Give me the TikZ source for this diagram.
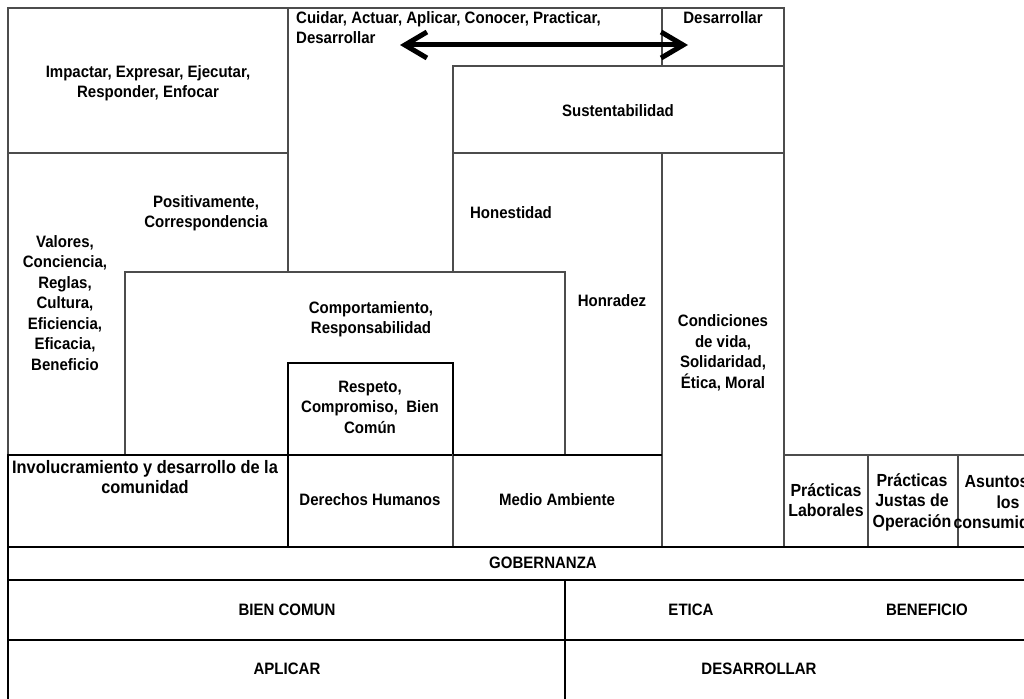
\documentclass[tikz,border=0pt]{standalone}
\usepackage{fontspec}
\setmainfont{Liberation Sans}[FakeStretch=0.91]
\usetikzlibrary{arrows.meta}
\tikzset{x=1pt, y=-1pt,
every node/.style={ % text of the boxes
font=\fontsize{16.5}{20.5}\selectfont\bfseries,
align=center,
inner sep=0pt},
bigtext/.style={font=\fontsize{17.5}{20.5}\selectfont\bfseries},
box/.style={ % thin grey frames
draw=black!70,
fill=white,
line width=1.1pt},
heavybox/.style={ % darker frames
draw=black,
fill=white,
line width=1.7pt},
bigarrow/.style={
{Straight Barb[length=22pt,width=26pt]}-{Straight Barb[length=22pt,width=26pt]},
line width=5pt}}

\begin{document}
\begin{tikzpicture}
	\useasboundingbox (0,0) rectangle (1024,698);
	\clip (0,0) rectangle (1024,698);
	% upper blocks
	\draw[box] (8,8) rectangle (288,153);
	\draw[box] (288,8) rectangle (662,300);
	\draw[box] (662,8) rectangle (784,66);
	\draw[box] (453,66) rectangle (784,153);
	\draw[box] (8,153) rectangle (288,455);
	\draw[box] (453,153) rectangle (662,455);
	\draw[box] (662,153) rectangle (784,547);
	\draw[box] (125,272) rectangle (565,455);
	\draw[heavybox] (288,363) rectangle (453,455);
	% lower rows
	\draw[heavybox] (8,455) rectangle (288,547);
	\draw[heavybox] (288,455) rectangle (453,547);
	\draw[box] (453,455) rectangle (662,547);
	\draw[heavybox] (453,455) -- (662,455);
	\draw[box] (784,455) rectangle (868,547);
	\draw[box] (868,455) rectangle (958,547);
	\draw[box] (958,455) rectangle (1060,547);
	\draw[heavybox] (8,547) rectangle (1060,580);
	\draw[heavybox] (8,580) rectangle (565,640);
	\draw[heavybox] (565,580) rectangle (1060,640);
	\draw[heavybox] (8,640) rectangle (565,720);
	\draw[heavybox] (565,640) rectangle (1060,720);

	\node[align=left, anchor=north west] (cuidar) at (296,11) {Cuidar, Actuar, Aplicar, Conocer, Practicar,\\Desarrollar};
	\node (desarrollar) at (723,18) {Desarrollar};
	\node (impactar) at (148,83) {Impactar, Expresar, Ejecutar,\\Responder, Enfocar};
	\node (susten) at (618,111) {Sustentabilidad};
	\node (positiv) at (206,213) {Positivamente,\\Correspondencia};
	\node (valores) at (65,303) {Valores,\\Conciencia,\\Reglas,\\Cultura,\\Eficiencia,\\Eficacia,\\Beneficio};
	\node (honest) at (511,213) {Honestidad};
	\node (honrad) at (612,301) {Honradez};
	\node (comport) at (371,319) {Comportamiento,\\Responsabilidad};
	\node (respeto) at (370,407) {Respeto,\\Compromiso,\ \ Bien\\Común};
	\node (condic) at (723,353) {Condiciones\\de vida,\\Solidaridad,\\Ética, Moral};
	\node[font=\fontsize{18}{20.5}\selectfont\bfseries] (involuc) at (145,477) {Involucramiento y desarrollo de la\\comunidad};
	\node (derechos) at (370,500) {Derechos Humanos};
	\node (medio) at (557,500) {Medio Ambiente};
	\node[bigtext] (laboral) at (826,500) {Prácticas\\Laborales};
	\node[bigtext] (justas) at (912,502) {Prácticas\\Justas de\\Operación};
	\node[bigtext] (asuntos) at (1008,502) {Asuntos de\\los\\consumidores};
	\node (gobern) at (543,563) {GOBERNANZA};
	\node (bien) at (287,610) {BIEN COMUN};
	\node (etica) at (691,610) {ETICA};
	\node (benef) at (927,610) {BENEFICIO};
	\node (aplicar) at (287,669) {APLICAR};
	\node (desarr) at (759,669) {DESARROLLAR};

	\coordinate (arrowL) at (400,45);
	\coordinate (arrowR) at (688,45);
	\draw[bigarrow] (arrowL) -- (arrowR);
\end{tikzpicture}
\end{document}
